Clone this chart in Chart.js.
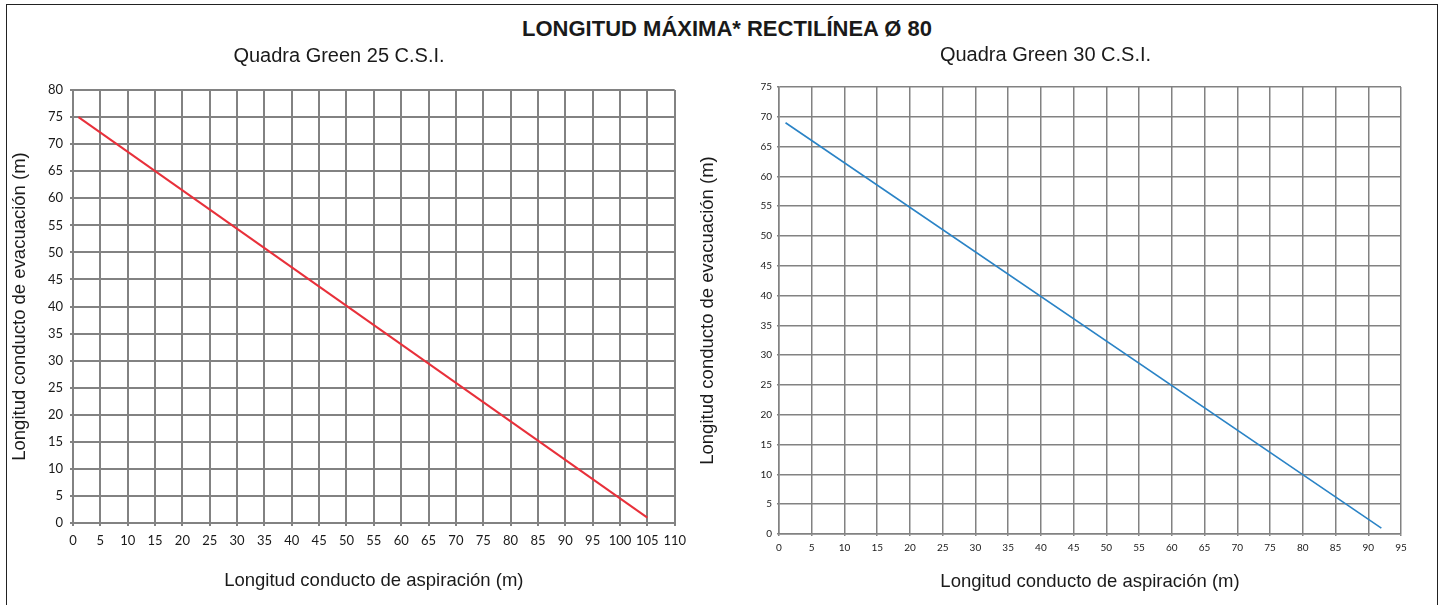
<!DOCTYPE html>
<html>
<head>
<meta charset="utf-8">
<script src="https://cdn.jsdelivr.net/npm/chart.js@4.4.1/dist/chart.umd.min.js"></script>
<style>
  html, body { margin: 0; padding: 0; background: #fff; }
  body { width: 1448px; height: 605px; position: relative; overflow: hidden; }
  #frame { position: absolute; left: 6px; top: 4px; width: 1432px; height: 620px; border: 1px solid #222; box-sizing: border-box; }
  #mainTitle { position: absolute; left: 0; width: 1454px; top: 16px; text-align: center;
    font-family: "Liberation Sans", Arial, sans-serif; font-weight: bold; font-size: 22px; line-height: 26px; color: #1a1a1a; }
  #cLeft { position: absolute; left: 3px; top: 0; }
  #cRight { position: absolute; left: 690px; top: 0; }
</style>
</head>
<body>
<div id="frame"></div>
<div id="mainTitle">LONGITUD MÁXIMA* RECTILÍNEA Ø 80</div>
<canvas id="cLeft" width="690" height="605"></canvas>
<canvas id="cRight" width="744" height="605"></canvas>
<script>
// ---- Data ----
const leftTitle = 'Quadra Green 25 C.S.I.';
const rightTitle = 'Quadra Green 30 C.S.I.';
const xAxisLabel = 'Longitud conducto de aspiración (m)';
const yAxisLabel = 'Longitud conducto de evacuación (m)';

const leftAspiration = [1, 105];
const leftEvacuation = [75, 1];
const rightAspiration = [1, 92];
const rightEvacuation = [69, 1];

const leftXTicks = [0,5,10,15,20,25,30,35,40,45,50,55,60,65,70,75,80,85,90,95,100,105,110];
const leftYTicks = [0,5,10,15,20,25,30,35,40,45,50,55,60,65,70,75,80];
const rightXTicks = [0,5,10,15,20,25,30,35,40,45,50,55,60,65,70,75,80,85,90,95];
const rightYTicks = [0,5,10,15,20,25,30,35,40,45,50,55,60,65,70,75];

// ---- Helpers ----
const TEXT = '#1a1a1a';
const GRID = '#828282';
const ARIAL = '"Liberation Sans", Arial, sans-serif';
const TICKF = 'Lato, "Open Sans", sans-serif';

function pts(xs, ys) { return xs.map((x, i) => ({ x: x, y: ys[i] })); }

function axis(ticksArr, o) {
  return {
    type: 'linear',
    min: ticksArr[0],
    max: ticksArr[ticksArr.length - 1],
    afterBuildTicks: s => { s.ticks = ticksArr.map(v => ({ value: v })); },
    afterFit: s => { if (o.width != null) s.width = o.width; if (o.height != null) s.height = o.height; },
    grid: { color: GRID, lineWidth: o.lw, tickLength: o.tl, drawTicks: true },
    border: { color: GRID, width: o.lw },
    ticks: { autoSkip: false, maxRotation: 0, minRotation: 0, color: TEXT, padding: o.tp,
             font: { family: TICKF, size: o.tfs } },
    title: { display: true, text: o.title, color: TEXT,
             font: { family: ARIAL, size: o.afs }, padding: o.apad }
  };
}

function makeChart(id, cfg) {
  return new Chart(document.getElementById(id), {
    type: 'scatter',
    data: { datasets: [{ data: pts(cfg.xs, cfg.ys), showLine: true, borderColor: cfg.color,
      borderWidth: cfg.bw, pointRadius: 0, pointHoverRadius: 0, fill: false, tension: 0 }] },
    options: {
      responsive: false, animation: false, devicePixelRatio: 1,
      layout: { padding: { top: 0, left: 0, right: cfg.rightPad, bottom: 0 } },
      plugins: {
        legend: { display: false }, tooltip: { enabled: false },
        title: { display: true, text: cfg.title, color: TEXT,
                 font: { family: ARIAL, size: 20, weight: 'normal', lineHeight: 1.2 },
                 padding: cfg.titlePad }
      },
      scales: {
        x: axis(cfg.xt, { height: cfg.xh, lw: cfg.lw, tl: cfg.tl, tp: cfg.xtp, tfs: cfg.tfs,
                          title: xAxisLabel, afs: 18.5, apad: { top: 0, bottom: cfg.xap } }),
        y: axis(cfg.yt, { width: cfg.yw, lw: cfg.lw, tl: cfg.tl, tp: cfg.ytp, tfs: cfg.tfs,
                          title: yAxisLabel, afs: 18.5, apad: { top: cfg.yap, bottom: 0 } })
      }
    }
  });
}

makeChart('cLeft', {
  title: leftTitle, xs: leftAspiration, ys: leftEvacuation, color: '#e8303a', bw: 2,
  xt: leftXTicks, yt: leftYTicks, rightPad: 18, titlePad: { top: 44, bottom: 22 },
  xh: 82, yw: 70, lw: 2, tl: 3, xtp: 7, ytp: 7, tfs: 13, xap: 13, yap: 6
});

makeChart('cRight', {
  title: rightTitle, xs: rightAspiration, ys: rightEvacuation, color: '#2a83c6', bw: 1.6,
  xt: rightXTicks, yt: rightYTicks, rightPad: 33, titlePad: { top: 43, bottom: 20 },
  xh: 71, yw: 89, lw: 1.5, tl: 2, xtp: 6, ytp: 5, tfs: 10, xap: 12, yap: 7
});
</script>
</body>
</html>
